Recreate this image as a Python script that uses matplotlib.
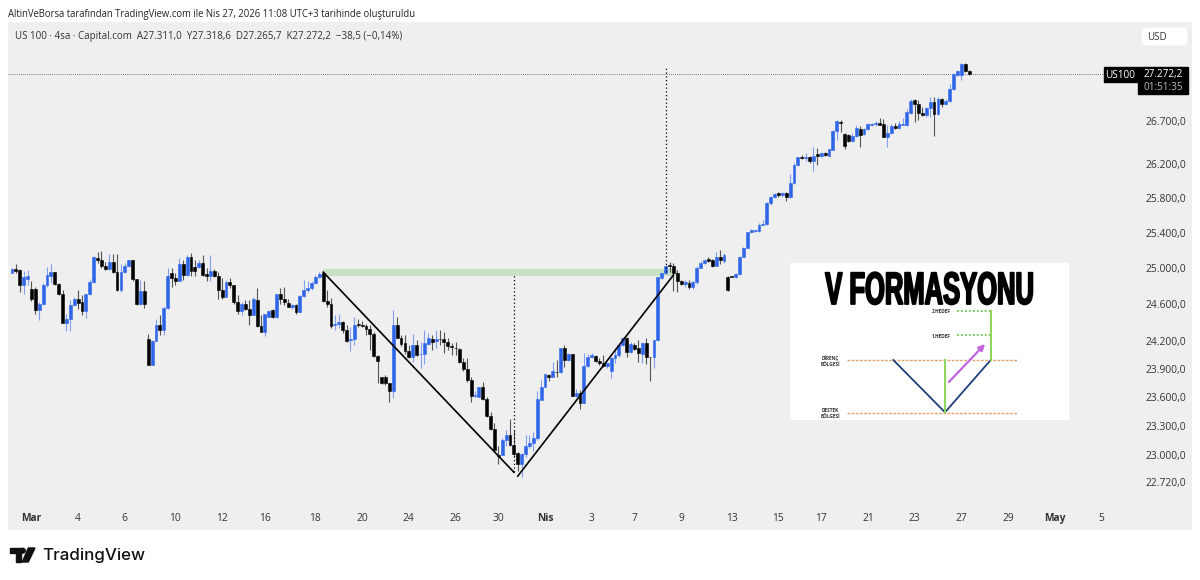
import matplotlib
matplotlib.use("Agg")
import matplotlib.pyplot as plt
import matplotlib.patheffects as pe
from matplotlib.patches import Circle, FancyBboxPatch, Polygon, Rectangle
from matplotlib.ticker import NullLocator
from matplotlib.transforms import Affine2D

plt.rcParams['font.family'] = ['Open Sans', 'DejaVu Sans']

W, H = 1200, 580
BG = "#f0efef"
BLUE = "#2f66e8"
BLUE_WICK = "#7f9ff0"
BLACK_WICK = "#555555"

header = "AltinVeBorsa tarafından TradingView.com ile Nis 27, 2026 11:08 UTC+3 tarihinde oluşturuldu"
legend = "US 100 · 4sa · Capital.com  A27.311,0  Y27.318,6  D27.265,7  K27.272,2  −38,5 (−0,14%)"

# 4 hour candles
opens = [
    24945, 24990, 24985, 24815, 24885, 24770, 24770, 24535, 24605, 24815,
    24920, 24955, 24825, 24720, 24395, 24440, 24590, 24655, 24630, 24525,
    24715, 24845, 25120, 25090, 25030, 24990, 25075, 24955, 24760, 24965,
    25030, 25090, 24880, 24610, 24750, 24220, 23945, 24205, 24380, 24320,
    24565, 24945, 24895, 24865, 25050, 24925, 25125, 25020, 25020, 25060,
    24935, 24915, 24975, 24920, 24760, 24680, 24850, 24810, 24630, 24530,
    24600, 24550, 24480, 24650, 24360, 24300, 24460, 24535, 24460, 24710,
    24655, 24620, 24575, 24590, 24515, 24695, 24755, 24785, 24840, 24900,
    24945, 24640, 24600, 24375, 24385, 24405, 24315, 24210, 24220, 24390,
    24380, 24365, 24330, 24275, 24040, 23815, 23815, 23745, 23660, 24375,
    24235, 24175, 24095, 24030, 24155, 24055, 24055, 24170, 24225, 24205,
    24225, 24225, 24195, 24145, 24130, 24110, 23975, 23895, 23780, 23610,
    23605, 23710, 23575, 23405, 23270, 23000, 23000, 23150, 23205, 23100,
    23015, 22905, 23005, 23090, 23120, 23175, 23570, 23710, 23840, 23815,
    23870, 23870, 24125, 23995, 24055, 23615, 23640, 23540, 23930, 24030,
    24040, 23980, 23960, 23930, 23880, 24015, 24045, 24155, 24235, 24080,
    24155, 24120, 24060, 24180, 24030, 24025, 24215, 24895, 24945, 25035,
    25030, 24950, 24855, 24825, 24840, 24790, 24845, 25010, 25065, 25100,
    25095, 25030, 25130, 25085, 24905, 24915, 24900, 24935, 25130, 25235,
    25410, 25420, 25420, 25495, 25500, 25740, 25815, 25855, 25830, 25860,
    25815, 25970, 26185, 26275, 26265, 26280, 26235, 26315, 26290, 26330,
    26295, 26365, 26590, 26695, 26550, 26540, 26470, 26525, 26615, 26545,
    26605, 26660, 26670, 26685, 26665, 26520, 26560, 26640, 26620, 26660,
    26660, 26805, 26955, 26910, 26805, 26775, 26860, 26935, 26790, 26975,
    26910, 26945, 27090, 27265, 27260, 27400, 27311,
]
highs = [
    25005, 25050, 24990, 24975, 24985, 24855, 24795, 24630, 24835, 25015,
    25050, 24965, 24835, 24760, 24500, 24650, 24685, 24760, 24705, 24720,
    24880, 25135, 25190, 25200, 25075, 25160, 25160, 25160, 25050, 25060,
    25095, 25095, 24880, 24870, 24855, 24275, 24215, 24445, 24480, 24570,
    25000, 25000, 24945, 25115, 25095, 25150, 25175, 25095, 25090, 25150,
    25000, 25150, 24990, 24955, 24890, 24870, 24890, 24815, 24705, 24630,
    24650, 24650, 24685, 24780, 24480, 24500, 24535, 24555, 24720, 24780,
    24790, 24665, 24610, 24610, 24705, 24870, 24855, 24855, 24925, 24965,
    24955, 24755, 24675, 24485, 24495, 24420, 24375, 24355, 24465, 24435,
    24420, 24390, 24375, 24300, 24050, 23815, 23835, 23745, 24540, 24460,
    24265, 24265, 24155, 24275, 24210, 24195, 24325, 24285, 24265, 24320,
    24315, 24300, 24230, 24175, 24195, 24120, 24015, 24015, 23810, 23660,
    23710, 23765, 23605, 23445, 23325, 23085, 23170, 23255, 23365, 23255,
    23030, 23015, 23205, 23205, 23230, 23660, 23780, 23850, 23845, 23975,
    23995, 24130, 24155, 24070, 24055, 23690, 23675, 24075, 24060, 24075,
    24045, 24015, 24050, 23975, 24030, 24120, 24175, 24245, 24245, 24190,
    24180, 24210, 24190, 24230, 24030, 24215, 24905, 24950, 25040, 25075,
    25065, 24980, 24870, 24870, 24870, 24860, 25025, 25085, 25100, 25125,
    25100, 25185, 25205, 25170, 24915, 24920, 24950, 25140, 25245, 25415,
    25450, 25435, 25510, 25545, 25755, 25825, 25855, 25870, 25875, 25875,
    26080, 26205, 26280, 26305, 26320, 26290, 26400, 26380, 26340, 26340,
    26375, 26600, 26715, 26715, 26560, 26550, 26560, 26660, 26640, 26620,
    26685, 26685, 26700, 26745, 26725, 26660, 26670, 26680, 26700, 26740,
    26845, 26975, 26965, 26955, 26875, 26870, 26995, 26995, 26990, 26980,
    26975, 27155, 27280, 27320, 27405, 27405, 27318.6,
]
lows = [
    24945, 24945, 24740, 24720, 24815, 24640, 24490, 24425, 24590, 24795,
    24835, 24815, 24705, 24395, 24310, 24305, 24590, 24555, 24480, 24455,
    24705, 24835, 25060, 25005, 24985, 24985, 24945, 24750, 24740, 24945,
    25020, 24865, 24590, 24590, 24565, 23945, 23945, 24200, 24265, 24265,
    24555, 24795, 24815, 24865, 24870, 24910, 24910, 24910, 25000, 24915,
    24865, 24865, 24900, 24665, 24665, 24680, 24780, 24610, 24490, 24480,
    24535, 24370, 24480, 24355, 24295, 24255, 24460, 24455, 24455, 24610,
    24590, 24575, 24555, 24490, 24515, 24680, 24740, 24760, 24825, 24890,
    24630, 24575, 24340, 24325, 24340, 24285, 24195, 24095, 24155, 24355,
    24355, 24265, 24105, 24030, 23745, 23740, 23730, 23550, 23595, 24230,
    24145, 24065, 24015, 23975, 24040, 23915, 23955, 24155, 24105, 24130,
    24155, 24075, 24105, 24050, 24050, 23960, 23880, 23765, 23550, 23605,
    23600, 23570, 23395, 23260, 23030, 22905, 22995, 23085, 23090, 22980,
    22835, 22770, 22980, 23065, 23040, 23150, 23565, 23705, 23775, 23810,
    23815, 23860, 23925, 23990, 23615, 23605, 23480, 23535, 23925, 24015,
    23975, 23940, 23925, 23915, 23800, 23960, 24030, 24145, 24030, 24070,
    24105, 23975, 23960, 23950, 23770, 23905, 24200, 24885, 24935, 24960,
    24750, 24740, 24815, 24795, 24775, 24775, 24830, 25000, 25055, 25075,
    25020, 25025, 25055, 25065, 24750, 24905, 24890, 24930, 25125, 25225,
    25405, 25410, 25410, 25485, 25495, 25725, 25805, 25815, 25815, 25765,
    25805, 25960, 26175, 26255, 26235, 26205, 26115, 26190, 26280, 26295,
    26290, 26360, 26480, 26580, 26370, 26460, 26460, 26515, 26400, 26540,
    26600, 26640, 26645, 26655, 26510, 26400, 26550, 26615, 26615, 26655,
    26650, 26795, 26695, 26715, 26765, 26755, 26755, 26530, 26780, 26875,
    26895, 26935, 27075, 27255, 27205, 27300, 27265.7,
]
closes = [
    24990, 24975, 24815, 24900, 24910, 24665, 24535, 24605, 24815, 24925,
    24955, 24825, 24715, 24395, 24440, 24590, 24665, 24620, 24525, 24715,
    24845, 25125, 25090, 25030, 24990, 25075, 24955, 24760, 24965, 25030,
    25090, 24880, 24605, 24750, 24610, 23945, 24205, 24380, 24320, 24565,
    24915, 24895, 24865, 25050, 24925, 25125, 24975, 24975, 25065, 24930,
    24910, 24975, 24915, 24760, 24680, 24850, 24810, 24630, 24530, 24605,
    24550, 24480, 24655, 24360, 24300, 24490, 24530, 24460, 24715, 24655,
    24630, 24575, 24590, 24515, 24695, 24755, 24785, 24840, 24900, 24940,
    24635, 24600, 24365, 24385, 24405, 24315, 24205, 24220, 24380, 24370,
    24365, 24330, 24275, 24040, 23985, 23745, 23745, 23660, 24375, 24235,
    24170, 24095, 24030, 24155, 24050, 24065, 24180, 24230, 24195, 24220,
    24220, 24195, 24145, 24135, 24120, 23975, 23895, 23780, 23610, 23620,
    23705, 23575, 23400, 23270, 23050, 22990, 23150, 23205, 23100, 23005,
    22905, 23005, 23090, 23120, 23175, 23575, 23710, 23845, 23815, 23875,
    23865, 24125, 23995, 24055, 23615, 23645, 23540, 23930, 24030, 24045,
    23980, 23960, 23930, 23960, 24015, 24050, 24155, 24230, 24080, 24165,
    24115, 24070, 24180, 24030, 24025, 24215, 24900, 24945, 25030, 25030,
    24950, 24855, 24825, 24845, 24790, 24845, 25010, 25065, 25095, 25085,
    25030, 25130, 25095, 25155, 24760, 24905, 24935, 25130, 25235, 25415,
    25430, 25435, 25495, 25500, 25745, 25815, 25845, 25840, 25860, 25815,
    25970, 26185, 26275, 26270, 26275, 26230, 26295, 26295, 26330, 26305,
    26370, 26590, 26700, 26680, 26410, 26470, 26530, 26625, 26540, 26610,
    26670, 26675, 26680, 26660, 26520, 26565, 26640, 26625, 26670, 26670,
    26810, 26950, 26910, 26805, 26775, 26860, 26935, 26790, 26975, 26910,
    26950, 27095, 27270, 27305, 27400, 27315, 27272.2,
]

price_ticks = [22720, 23000, 23300, 23600, 23900, 24200, 24600, 25000,
               25400, 25800, 26200, 26700]
price_labels = ["22.720,0", "23.000,0", "23.300,0", "23.600,0", "23.900,0", "24.200,0",
                "24.600,0", "25.000,0", "25.400,0", "25.800,0", "26.200,0", "26.700,0"]
date_ticks = [5, 17, 29, 42, 54, 65, 78, 90, 102, 114, 125, 137,
              149, 160, 172, 185, 197, 208, 220, 232, 244, 256, 268, 280]
date_labels = ["Mar", "4", "6", "10", "12", "16", "18", "20", "24", "26", "30", "Nis",
               "3", "7", "9", "13", "15", "17", "21", "23", "27", "29", "May", "5"]

last_price = 27272.2
zone_low, zone_high = 24917, 24992
zone_start, zone_end = 80, 171
v_index = [80, 129]
v_price = [24958, 22820]
v2_index = [130, 170]
v2_price = [22780, 24925]
drop_index, drop_top, drop_bottom = 129, 24925, 22820
rise_index, rise_top, rise_bottom = 168, 27360, 24960


class Stretched(pe.AbstractPathEffect):
    # scales the glyphs, there is no condensed heavy font to use
    def __init__(self, sx, sy, width):
        super().__init__()
        self.sx, self.sy, self.width = sx, sy, width

    def draw_path(self, renderer, gc, tpath, affine, rgbFace=None):
        gc0 = renderer.new_gc()
        gc0.copy_properties(gc)
        gc0.set_foreground("black")
        gc0.set_linewidth(self.width)
        renderer.draw_path(gc0, tpath, Affine2D().scale(self.sx, self.sy) + affine, rgbFace)
        gc0.restore()


def px_axes(fig, left, top, right, bottom, **kwargs):
    return fig.add_axes([left / W, 1 - bottom / H, (right - left) / W, (bottom - top) / H], **kwargs)


def draw_candles(ax):
    for i in range(len(opens)):
        up = closes[i] >= opens[i]
        ax.vlines(i, lows[i], highs[i], color=BLUE_WICK if up else BLACK_WICK, lw=0.8, zorder=3)
        ax.bar(i, abs(closes[i] - opens[i]), bottom=min(opens[i], closes[i]), width=0.74,
               color=BLUE if up else "black", edgecolor=BLUE if up else "black", lw=0.4, zorder=4)


def draw_inset(fig):
    ax = px_axes(fig, 790, 263, 1069, 420, zorder=6)
    ax.set_xlim(790, 1069)
    ax.set_ylim(420, 263)
    ax.axis("off")
    ax.add_patch(Rectangle((790, 263), 279, 157, color="white", zorder=0))
    ax.text(929.5, 304, "V FORMASYONU", ha="center", va="baseline", fontsize=18.4,
            family=["Liberation Sans Narrow", "Liberation Sans"], weight="bold",
            path_effects=[Stretched(1.0, 1.78, 1.3)])
    for y in [360, 412.7]:
        ax.plot([847, 1017], [y, y], color="#e6a36e", lw=1.0, ls=(0, (2, 1)))
    ax.plot([893.3, 945, 990.7], [360, 412.3, 360], color="#1f3f7a", lw=1.3)
    ax.plot([945, 945], [360, 412], color="#8ed85f", lw=1.5)
    ax.plot([990.7, 990.7], [360, 311], color="#8ed85f", lw=1.5)
    for y in [311, 335]:
        ax.plot([957, 990], [y, y], color="#6cc74a", lw=1.3, ls=(0, (1, 1.2)))
    ax.annotate("", xy=(987, 342), xytext=(947, 384),
                arrowprops=dict(arrowstyle="-|>", color="#c264e0", lw=1.6, mutation_scale=9))
    small = dict(fontsize=3.4, weight="bold", color="#333333", va="center", ha="center")
    ax.text(941.5, 311.5, "2.HEDEF", **small)
    ax.text(941.5, 336, "1.HEDEF", **small)
    ax.text(830.5, 361, "DİRENÇ\nBÖLGESİ", **small)
    ax.text(830.5, 413.5, "DESTEK\nBÖLGESİ", **small)


def draw_page(fig):
    ax = px_axes(fig, 0, 0, W, H, zorder=5)
    ax.set_xlim(0, W)
    ax.set_ylim(H, 0)
    ax.axis("off")
    ax.text(8, 14.5, header, fontsize=6.87, color="#222222", va="center")
    ax.text(15, 36.5, legend, fontsize=7.05, color="#333333", va="center")

    # price tags on the right
    ax.add_patch(FancyBboxPatch((1143, 29), 43, 15, boxstyle="round,pad=0,rounding_size=3",
                                fc="white", ec="white", lw=2))
    ax.text(1157, 37.5, "USD", fontsize=7, color="#333333", va="center", ha="center")
    ax.add_patch(Rectangle((1103.5, 66.5), 33, 15, color="black"))
    ax.add_patch(Rectangle((1138, 66.5), 50, 27.5, color="black"))
    ax.text(1120, 75.5, "US100", fontsize=7.2, color="white", va="center", ha="center")
    ax.text(1163.5, 75, "27.272,2", fontsize=7.2, color="white", va="center", ha="center")
    ax.text(1163.5, 87.5, "01:51:35", fontsize=7.2, color="#bbbbbb", va="center", ha="center")

    # tradingview logo
    ax.add_patch(Polygon([(10, 548), (20.7, 548), (20.7, 562), (15.7, 562), (15.7, 552.5), (10, 552.5)],
                         color="#111111"))
    ax.add_patch(Circle((22.8, 550.7), 2.4, color="#111111"))
    ax.add_patch(Polygon([(28.3, 548), (35, 548), (28.3, 562), (22.3, 562)], color="#111111"))
    ax.text(42, 555.5, "TradingView", fontsize=12.2, family=["Inter"], weight="medium",
            color="#111111", va="center")


fig = plt.figure(figsize=(W / 100, H / 100), dpi=100, facecolor="white")
ax = px_axes(fig, 8, 22, 1192, 530)
ax.set_facecolor(BG)
ax.set_yscale("log")
ax.set_xlim(-1.03, 303.3)
ax.set_ylim(22237, 27916)
for side in ax.spines.values():
    side.set_visible(False)

ax.fill_between([zone_start, zone_end], zone_low, zone_high, color="#c8e0c4", lw=0, zorder=2)
draw_candles(ax)
ax.plot(v_index, v_price, color="black", lw=1.2, zorder=5)
ax.plot(v2_index, v2_price, color="black", lw=1.2, zorder=5)
ax.vlines(drop_index, drop_bottom, drop_top, color="black", lw=0.9, ls=(0, (1, 2)), zorder=5)
ax.vlines(rise_index, rise_bottom, rise_top, color="black", lw=0.9, ls=(0, (1, 2)), zorder=5)
ax.axhline(last_price, color="#555555", lw=0.6, ls=(0, (1, 1.5)), xmax=0.928, zorder=2)

ax.yaxis.tick_right()
ax.yaxis.set_minor_locator(NullLocator())
ax.set_yticks(price_ticks)
ax.set_yticklabels(price_labels)
ax.tick_params(axis="y", length=0, pad=-33.5, labelsize=7.4, labelcolor="#333333")
ax.set_xticks(date_ticks)
ax.set_xticklabels(date_labels)
ax.tick_params(axis="x", length=0, pad=-12, labelsize=7.4, labelcolor="#333333")
for label in ax.get_xticklabels():
    if label.get_text() in ("Mar", "Nis", "May"):
        label.set_fontweight("bold")

draw_inset(fig)
draw_page(fig)

fig.savefig("out.png", dpi=100, facecolor="white")
